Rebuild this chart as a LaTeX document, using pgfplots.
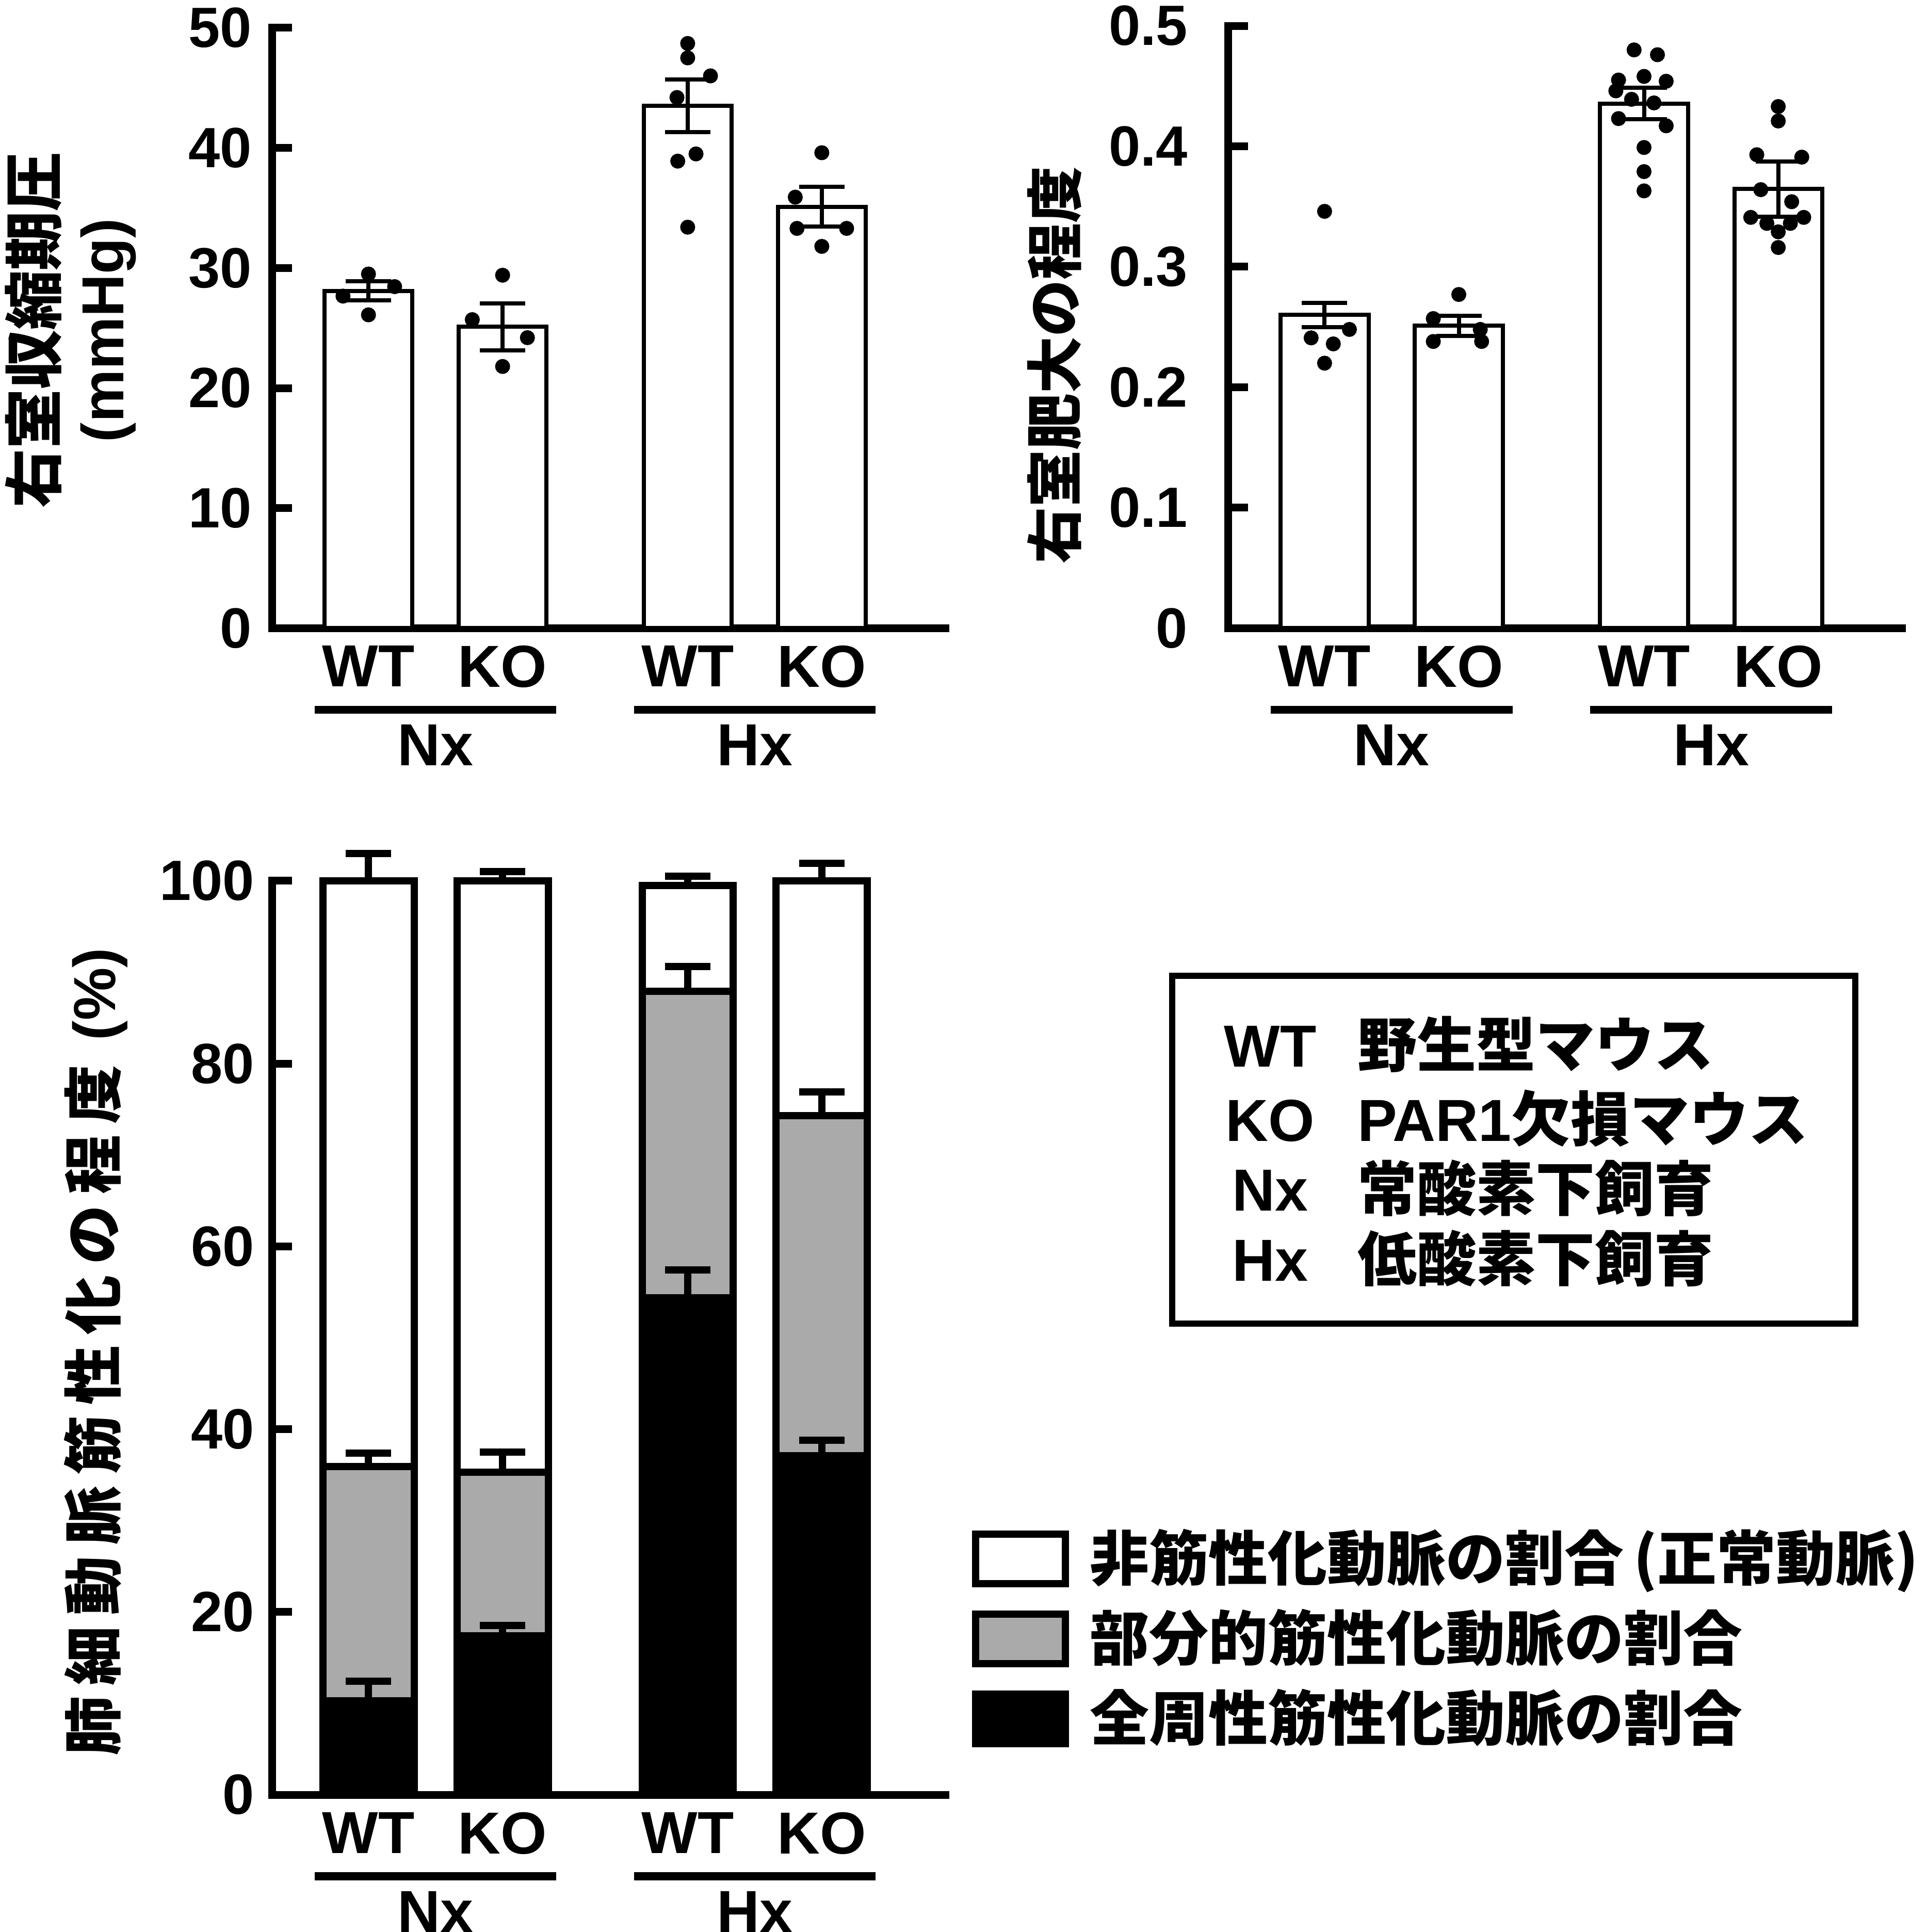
\documentclass[border=0pt]{standalone}
\usepackage{fontspec}
\setmainfont{Liberation Sans}
\newfontfamily\jp{Noto Sans CJK JP}
\usepackage{pgfplots}
\pgfplotsset{compat=1.18}
\definecolor{midgray}{HTML}{AAAAAA}

\newcommand\lab{\fontsize{11.5}{12}\selectfont\bfseries}
\newcommand\num{\fontsize{11}{12}\selectfont\bfseries}
\newcommand\jlab{\fontsize{11.5}{13.1}\selectfont\jp\bfseries}
\newcommand\jleg{\fontsize{11.5}{12}\selectfont\jp\bfseries}
\newcommand\lsp{\kern2.1pt}

\pgfplotsset{
  panel/.style={
    scale only axis, axis lines=left,
    axis line style={-, line width=1.5pt, line cap=rect},
    enlargelimits=false, clip=false,
    xmin=0.28, xmax=5.3,
    xtick={1,2,3.38,4.38}, xticklabels={WT,KO,WT,KO},
    x tick style={draw=none},
    y tick style={line width=1.5pt, black},
    tick align=inside, major tick length=3.9pt,
    xticklabel style={font=\lab, anchor=north, inner sep=0pt, yshift=-3.2pt},
    yticklabel style={font=\num, anchor=east, inner sep=0pt},
    /pgf/number format/assume math mode=true,
  },
  dots/.style={only marks, mark=*, mark size=1.25pt, black},
  topbar/.style={ybar, bar width=0.655, bar shift=0pt, fill=white, draw=black, line width=0.8pt,
    error bars/y dir=both, error bars/y explicit,
    error bars/error bar style={line width=0.8pt, black},
    error bars/error mark options={rotate=90, line width=0.8pt, mark size=4.4pt, black}},
  stackbar/.style={ybar, bar width=0.68, bar shift=0pt, draw=black, line width=1.4pt,
    error bars/y dir=plus, error bars/y explicit,
    error bars/error bar style={line width=1.4pt, black},
    error bars/error mark options={rotate=90, line width=1.4pt, mark size=4.4pt, black}},
}

% group underlines and Nx / Hx under each panel
\newcommand\groups{%
  \draw[line width=1.56pt] ([yshift=-15.8pt]axis cs:0.6,0) -- ([yshift=-15.8pt]axis cs:2.4,0);
  \draw[line width=1.56pt] ([yshift=-15.8pt]axis cs:2.98,0) -- ([yshift=-15.8pt]axis cs:4.78,0);
  \node[font=\lab, anchor=base, inner sep=0pt] at ([yshift=-26.6pt]axis cs:1.5,0) {Nx};
  \node[font=\lab, anchor=base, inner sep=0pt] at ([yshift=-26.6pt]axis cs:3.88,0) {Hx};
}

\begin{document}
\begin{tikzpicture}
\useasboundingbox (0,0) rectangle (373.5pt,374.4pt);

% ---- right ventricular systolic pressure
\begin{axis}[panel, at={(52.7pt,252.65pt)}, anchor=south west,
  width=130.5pt, height=116.35pt, ymin=0, ymax=50, ytick={0,10,...,50},
  yticklabel style={xshift=-3.7pt}]
\addplot[topbar] coordinates {(1,28.1) +- (0,0.8) (2,25.1) +- (0,1.95)
  (3.38,43.5) +- (0,2.2) (4.38,35.1) +- (0,1.65)};
\addplot[dots] coordinates {
  (1,29.5) (1.195,28.45) (0.81,27.66) (1,26.1)
  (2,29.4) (1.774,25.7) (2.185,24.2) (2,21.8)
  (3.38,48.7) (3.38,47.5) (3.55,46.0) (3.30,44.2) (3.442,39.5) (3.306,38.9) (3.38,33.4)
  (4.38,39.6) (4.182,35.9) (4.195,33.3) (4.565,33.3) (4.38,31.8)};
\groups
\end{axis}

% ---- RV hypertrophy
\begin{axis}[panel, at={(238.0pt,252.65pt)}, anchor=south west,
  width=130.6pt, height=116.75pt, ymin=0, ymax=0.5, ytick={0,0.1,...,0.5},
  yticklabel style={xshift=-7.6pt, /pgf/number format/.cd, fixed, precision=1}]
\addplot[topbar] coordinates {(1,0.260) +- (0,0.010) (2,0.251) +- (0,0.0085)
  (3.38,0.4355) +- (0,0.013) (4.38,0.3645) +- (0,0.023)};
\addplot[dots] coordinates {
  (1,0.346) (1.185,0.248) (0.90,0.241) (1.065,0.236) (1,0.220)
  (2,0.277) (1.81,0.257) (2.16,0.248) (1.81,0.238) (2.17,0.238)
  (3.306,0.480) (3.48,0.476) (3.38,0.458) (3.19,0.455) (3.545,0.454) (3.17,0.446)
  (3.287,0.439) (3.454,0.436) (3.19,0.423) (3.545,0.417) (3.38,0.399) (3.38,0.379) (3.38,0.363)
  (4.38,0.433) (4.38,0.421) (4.22,0.393) (4.555,0.391) (4.25,0.364) (4.48,0.354)
  (4.175,0.341) (4.57,0.341) (4.295,0.336) (4.47,0.336) (4.38,0.329) (4.38,0.316)};
\groups
\end{axis}

% ---- muscularisation of pulmonary arterioles (cumulative tops)
\begin{axis}[panel, at={(52.7pt,26.6pt)}, anchor=south west,
  width=130.5pt, height=177.1pt, ymin=0, ymax=100, ytick={0,20,...,100},
  yticklabel style={xshift=-3.2pt}]
\addplot[fill=white, stackbar] coordinates {(1,100) +- (0,3.0) (2,100) +- (0,1.0)
  (3.38,99.5) +- (0,1.0) (4.38,100) +- (0,1.9)};
\addplot[fill=midgray, stackbar] coordinates {(1,35.9) +- (0,1.5) (2,35.3) +- (0,2.2)
  (3.38,87.9) +- (0,2.7) (4.38,74.3) +- (0,2.6)};
\addplot[fill=black, stackbar] coordinates {(1,10.3) +- (0,2.1) (2,17.4) +- (0,1.1)
  (3.38,54.4) +- (0,3.0) (4.38,37.1) +- (0,1.7)};
\groups
\end{axis}

% ---- y labels
\node[rotate=90, font=\jlab, align=center] at (13.7pt,310.4pt) {右室収縮期圧\\{\rmfamily\bfseries (mmHg)}};
\node[rotate=90, font={\fontsize{11}{12}\selectfont\jp\bfseries}] at (204.4pt,303.6pt) {右室肥大の程度};
\node[rotate=90, font=\jlab] at (18.6pt,112.4pt)
  {肺\lsp 細\lsp 動\lsp 脈\lsp 筋\lsp 性\lsp 化\lsp の\lsp 程\lsp 度\lsp\ {\rmfamily\bfseries (\%)}};

% ---- abbreviation box
\draw[line width=1.2pt] (227.2pt,117.9pt) rectangle (359.6pt,185.3pt);
\foreach \yc/\ab/\txt in {171.7/WT/野生型マウス, 157.3/KO/{{\rmfamily\bfseries PAR1}欠損マウス},
    143.8/Nx/常酸素下飼育, 130.2/Hx/低酸素下飼育} {
  \node[font=\lab, anchor=base, inner sep=0pt] at (246.2pt,\yc pt-4.1pt) {\ab};
  \node[font={\fontsize{11.5}{12}\selectfont\jp\bfseries}, anchor=base west, inner sep=0pt] at (262.9pt,\yc pt-4.1pt) {\txt};
}

% ---- legend of the stacked bars
\foreach \yc/\col/\txt in {72.3/white/{非筋性化動脈の割合\,(正常動脈)},
    56.8/midgray/部分的筋性化動脈の割合, 41.3/black/全周性筋性化動脈の割合} {
  \draw[line width=1.4pt, fill=\col] (189.1pt,\yc pt-4.8pt) rectangle (206.5pt,\yc pt+4.8pt);
  \node[font=\jleg, anchor=base west, inner sep=0pt] at (211.0pt,\yc pt-4.2pt) {\txt};
}
\end{tikzpicture}
\end{document}
